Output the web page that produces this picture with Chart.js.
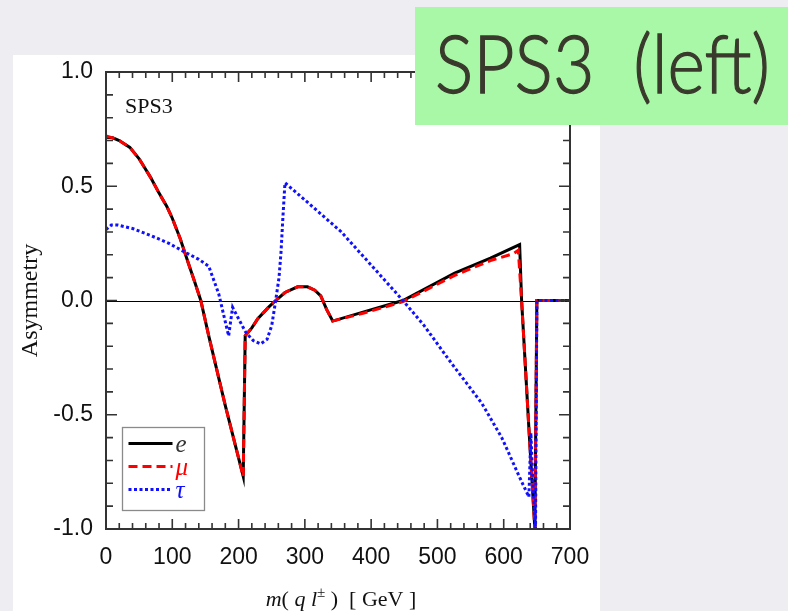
<!DOCTYPE html>
<html>
<head>
<meta charset="utf-8">
<title>SPS3 asymmetry</title>
<script src="https://cdn.jsdelivr.net/npm/chart.js@4.4.1/dist/chart.umd.min.js"></script>
<style>
  html, body { margin: 0; padding: 0; }
  body { width: 788px; height: 611px; background: #eeedf2; position: relative; overflow: hidden; }
  #panel { position: absolute; left: 13px; top: 55px; width: 587px; height: 556px; background: #fff; }
  #wrap { position: absolute; left: 0; top: 0; width: 788px; height: 611px; }
  #tag { position: absolute; left: 415px; top: 7px; width: 373px; height: 118px; background: #a8f8a8; }
  #tag span {
    position: absolute; left: 20px; top: 15px;
    font-family: Lato, "Open Sans", sans-serif; font-weight: 300; font-size: 80px; line-height: 1;
    color: #3a3a2c; -webkit-text-stroke: 1.3px #3a3a2c;
    white-space: pre; transform-origin: left top;
  }
</style>
</head>
<body>
<div id="panel"></div>
<div id="wrap"><canvas id="chart" width="788" height="611"></canvas></div>
<div id="tag"><span id="tagText">SPS3  (left)</span></div>
<script>
'use strict';

// invariant mass m(q l) in GeV, asymmetry per lepton flavour
var eMass = [0, 10, 20, 36, 50, 67, 80, 92, 100, 112, 124, 134, 143, 155, 180, 207,
  210, 220, 229, 245, 256, 270, 289, 304, 315, 324, 333, 342, 389, 448, 526, 580,
  624, 627, 638, 647, 650, 700];
var eAsym = [0.715, 0.712, 0.70, 0.67, 0.62, 0.54, 0.47, 0.41, 0.36, 0.27, 0.165, 0.08, 0.0, -0.155, -0.46, -0.77,
  -0.155, -0.12, -0.08, -0.03, 0.0, 0.035, 0.06, 0.06, 0.045, 0.02, -0.04, -0.09, -0.05, 0.0, 0.12, 0.185,
  0.245, 0.0, -0.56, -1.0, 0.0, 0.0];

var muMass = [0, 10, 20, 36, 50, 67, 80, 92, 100, 112, 124, 134, 143, 155, 180, 207,
  210, 220, 229, 245, 256, 270, 289, 304, 315, 324, 333, 342, 389, 448, 526, 580,
  615, 622, 627, 638, 647, 650, 700];
var muAsym = [0.72, 0.712, 0.70, 0.67, 0.62, 0.54, 0.47, 0.41, 0.36, 0.27, 0.165, 0.08, 0.0, -0.155, -0.46, -0.77,
  -0.155, -0.12, -0.08, -0.03, 0.0, 0.035, 0.06, 0.06, 0.045, 0.02, -0.04, -0.09, -0.055, -0.005, 0.11, 0.175,
  0.205, 0.22, 0.0, -0.56, -1.0, 0.0, 0.0];

var tauMass = [0, 8, 18, 40, 67, 95, 120, 140, 155, 170, 185, 191, 200, 211, 222, 233,
  243, 250, 256, 261, 264, 267, 270, 300, 355, 400, 448, 480, 520, 567, 597,
  625, 638, 641, 644, 648, 650, 700];
var tauAsym = [0.31, 0.33, 0.33, 0.315, 0.285, 0.25, 0.21, 0.18, 0.15, 0.03, -0.155, -0.03, -0.08, -0.14, -0.175, -0.19,
  -0.17, -0.11, 0.0, 0.1, 0.21, 0.37, 0.515, 0.44, 0.30, 0.155, 0.0, -0.11, -0.27, -0.45, -0.60,
  -0.78, -0.86, -0.58, -0.80, -1.0, 0.0, 0.0];

var xTicks = [0, 100, 200, 300, 400, 500, 600, 700];
var yTicks = [-1.0, -0.5, 0.0, 0.5, 1.0];

var legendLabels = ['e', 'μ', 'τ'];
var seriesColors = ['#000000', '#ff0000', '#1010ff'];
var seriesDash = [[], [9, 5], [3, 2.5]];

function toPoints(xs, ys) {
  return xs.map(function (x, i) { return { x: x, y: ys[i] }; });
}

var tickFont = { family: '"Liberation Sans", Arial, sans-serif', size: 23 };
var serif = '"Liberation Serif", "Times New Roman", serif';

// frame with inward ticks, zero line, in-plot legend and axis titles
var framePlugin = {
  id: 'frame',
  beforeDatasetsDraw: function (chart) {
    var ctx = chart.ctx, a = chart.chartArea, y = chart.scales.y;
    var y0 = Math.round(y.getPixelForValue(0)) + 0.5;
    ctx.save();
    ctx.strokeStyle = '#000';
    ctx.lineWidth = 1.2;
    ctx.beginPath();
    ctx.moveTo(a.left, y0);
    ctx.lineTo(a.right, y0);
    ctx.stroke();
    ctx.restore();
  },
  afterDatasetsDraw: function (chart) {
    var ctx = chart.ctx, a = chart.chartArea;
    var xs = chart.scales.x, ys = chart.scales.y;
    ctx.save();
    ctx.strokeStyle = '#333';
    ctx.lineWidth = 2;
    ctx.strokeRect(a.left, a.top, a.right - a.left, a.bottom - a.top);

    ctx.lineWidth = 1.6;
    ctx.beginPath();
    for (var m = 0; m <= 700; m += 20) {
      var px = xs.getPixelForValue(m);
      var len = m % 100 === 0 ? 10 : 6;
      ctx.moveTo(px, a.bottom); ctx.lineTo(px, a.bottom - len);
      ctx.moveTo(px, a.top); ctx.lineTo(px, a.top + len);
    }
    for (var k = -10; k <= 10; k++) {
      var py = ys.getPixelForValue(k / 10);
      var l = k % 5 === 0 ? 11 : 7;
      ctx.moveTo(a.left, py); ctx.lineTo(a.left + l, py);
      ctx.moveTo(a.right, py); ctx.lineTo(a.right - l, py);
    }
    ctx.stroke();

    // panel label
    ctx.fillStyle = '#111';
    ctx.font = '22px ' + serif;
    ctx.textBaseline = 'alphabetic';
    ctx.textAlign = 'left';
    ctx.fillText('SPS3', a.left + 19, a.top + 41);

    // legend box
    var bx = a.left + 16.5, by = a.top + 355.5;
    ctx.fillStyle = '#fff';
    ctx.fillRect(bx, by, 82, 83);
    ctx.strokeStyle = '#8a8a8a';
    ctx.lineWidth = 1.3;
    ctx.strokeRect(bx, by, 82, 83);
    for (var i = 0; i < 3; i++) {
      var ly = by + 16 + i * 23;
      ctx.strokeStyle = seriesColors[i];
      ctx.lineWidth = 2.8;
      ctx.setLineDash(seriesDash[i]);
      ctx.beginPath();
      ctx.moveTo(bx + 6, ly);
      ctx.lineTo(bx + 50, ly);
      ctx.stroke();
      ctx.setLineDash([]);
      ctx.fillStyle = i === 0 ? '#333' : seriesColors[i];
      ctx.font = 'italic 25px ' + serif;
      ctx.textBaseline = 'middle';
      ctx.fillText(legendLabels[i], bx + 53, ly + 2);
    }

    // y title
    ctx.fillStyle = '#111';
    ctx.font = '24px ' + serif;
    ctx.textAlign = 'center';
    ctx.textBaseline = 'middle';
    ctx.save();
    ctx.translate(31, (a.top + a.bottom) / 2);
    ctx.rotate(-Math.PI / 2);
    ctx.fillText('Asymmetry', 0, 0);
    ctx.restore();

    // x title: m( q l± )  [ GeV ]
    var parts = [
      ['m', 'italic 22px ', 0], ['( ', '22px ', 0], ['q', 'italic 22px ', 0], [' ', '22px ', 0],
      ['l', 'italic 22px ', 0], ['±', '15px ', -9], [' )', '22px ', 0], ['  [ GeV ]', '22px ', 0]
    ];
    var total = 0;
    parts.forEach(function (p) { ctx.font = p[1] + serif; total += ctx.measureText(p[0]).width; });
    var cx = (a.left + a.right) / 2 - total / 2 + 3;
    ctx.textAlign = 'left';
    ctx.textBaseline = 'alphabetic';
    parts.forEach(function (p) {
      ctx.font = p[1] + serif;
      ctx.fillText(p[0], cx, 606 + p[2]);
      cx += ctx.measureText(p[0]).width;
    });
    ctx.restore();
  }
};

var ctx = document.getElementById('chart').getContext('2d');

var chart = new Chart(ctx, {
  type: 'scatter',
  data: {
    datasets: [
      {
        label: 'τ',
        data: toPoints(tauMass, tauAsym),
        borderColor: seriesColors[2],
        borderWidth: 3,
        borderDash: seriesDash[2],
        order: 0
      },
      {
        label: 'μ',
        data: toPoints(muMass, muAsym),
        borderColor: seriesColors[1],
        borderWidth: 3,
        borderDash: seriesDash[1],
        order: 1
      },
      {
        label: 'e',
        data: toPoints(eMass, eAsym),
        borderColor: seriesColors[0],
        borderWidth: 3,
        order: 2
      }
    ]
  },
  options: {
    responsive: false,
    animation: false,
    showLine: true,
    elements: { point: { radius: 0, hoverRadius: 0 }, line: { tension: 0 } },
    layout: { padding: { left: 13, top: 72, right: 218, bottom: 0 } },
    plugins: { legend: { display: false }, tooltip: { enabled: false } },
    scales: {
      x: {
        type: 'linear',
        min: 0, max: 700,
        grid: { display: false, drawTicks: false },
        border: { display: false },
        afterBuildTicks: function (s) { s.ticks = xTicks.map(function (v) { return { value: v }; }); },
        afterFit: function (s) { s.height = 82; },
        ticks: { font: tickFont, color: '#111', padding: 15, maxRotation: 0 }
      },
      y: {
        min: -1, max: 1,
        grid: { display: false, drawTicks: false },
        border: { display: false },
        afterBuildTicks: function (s) { s.ticks = yTicks.map(function (v) { return { value: v }; }); },
        afterFit: function (s) { s.width = 93; },
        ticks: {
          font: tickFont, color: '#111', padding: 13,
          callback: function (v) { return Number(v).toFixed(1); }
        }
      }
    }
  },
  plugins: [framePlugin]
});

// squeeze the tag text to the box
var tag = document.getElementById('tagText');
var w = tag.getBoundingClientRect().width;
tag.style.transform = 'scaleX(' + (335 / w) + ')';
</script>
</body>
</html>
